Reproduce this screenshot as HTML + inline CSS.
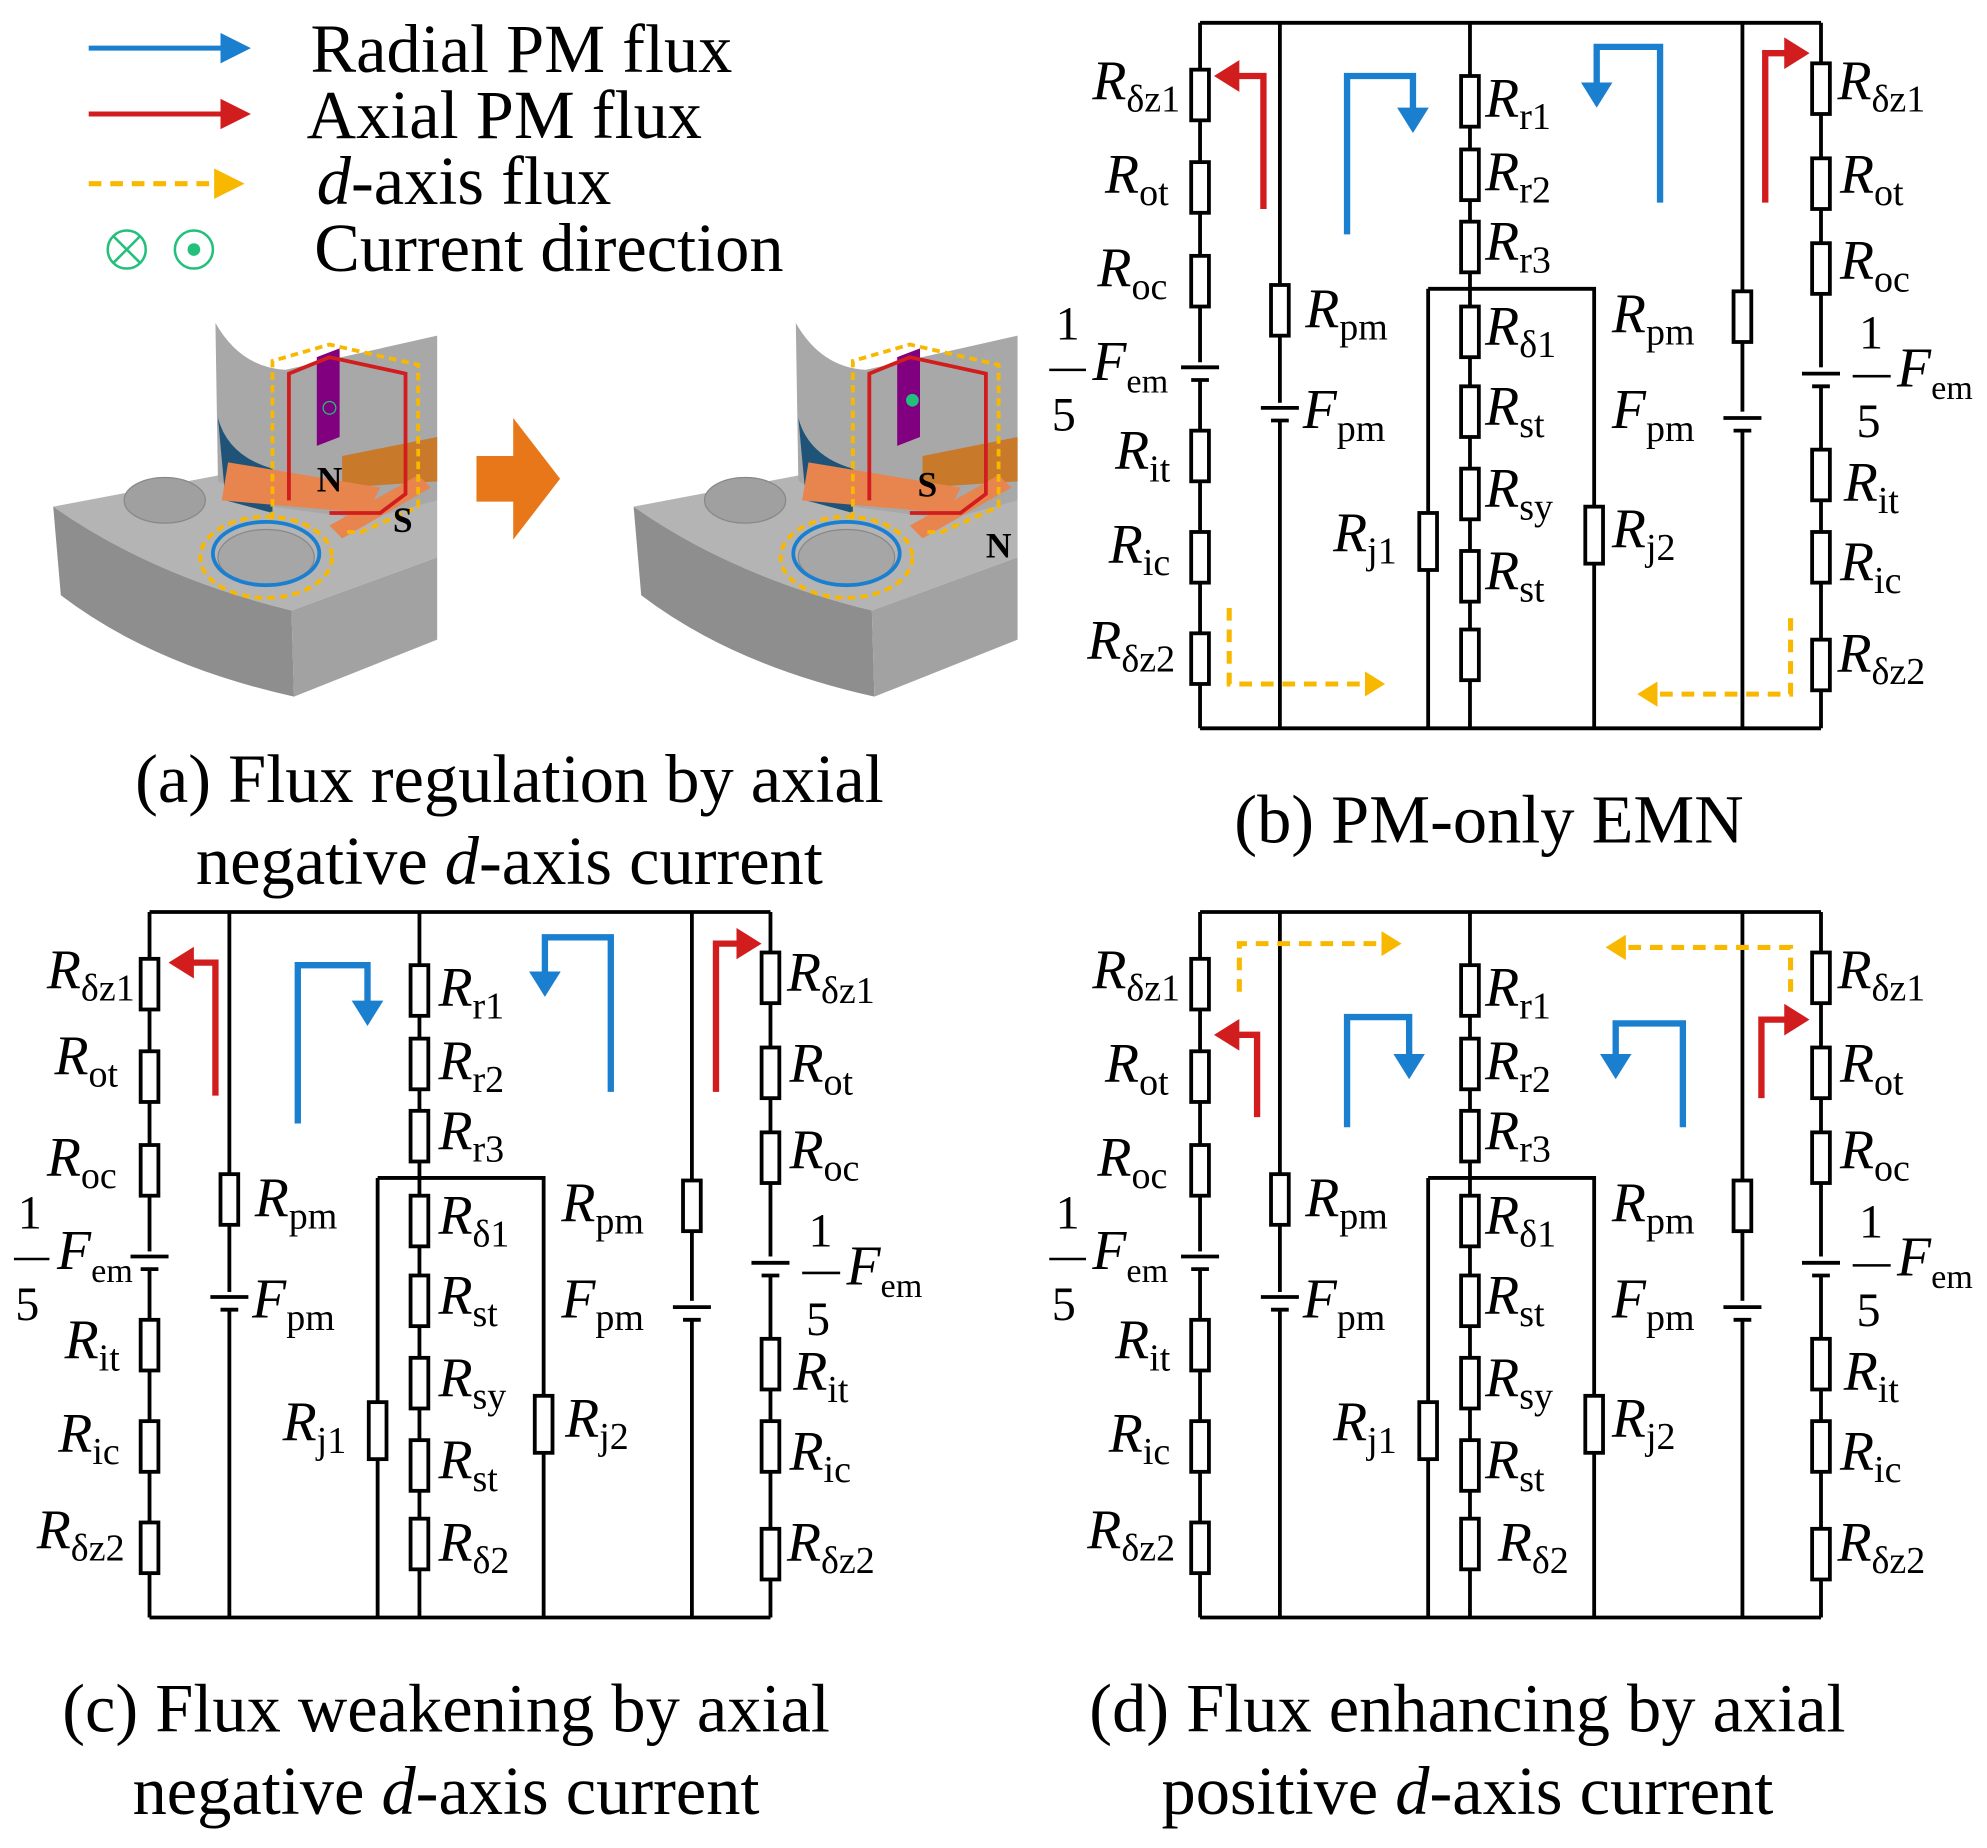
<!DOCTYPE html>
<html><head><meta charset="utf-8"><style>html,body{margin:0;padding:0;background:#fff}svg{display:block}
.L{font-size:44px}.L tspan[font-size="27"]{font-size:30px}.L tspan[font-size="24"]{font-size:27px}.L text[font-size="34"]{font-size:38px}
</style></head><body>
<svg xmlns="http://www.w3.org/2000/svg" width="1987" height="1848" viewBox="0 0 1568 1459" preserveAspectRatio="none" font-family="Liberation Serif, serif">
<defs>
<marker id="ab" markerWidth="6" markerHeight="6" refX="4" refY="3" orient="auto" markerUnits="strokeWidth"><path d="M0,0 L6,3 L0,6 Z" fill="#1b7fd0"/></marker>
<marker id="ar" markerWidth="6" markerHeight="6" refX="4" refY="3" orient="auto" markerUnits="strokeWidth"><path d="M0,0 L6,3 L0,6 Z" fill="#d11d1d"/></marker>
<marker id="ay" markerWidth="6" markerHeight="6" refX="4" refY="3" orient="auto" markerUnits="strokeWidth"><path d="M0,0 L6,3 L0,6 Z" fill="#f8b800"/></marker>
<marker id="ab2" markerWidth="4" markerHeight="5" refX="2" refY="2.5" orient="auto" markerUnits="strokeWidth"><path d="M0,0 L4,2.5 L0,5 Z" fill="#1b7fd0"/></marker>
<marker id="ar2" markerWidth="4" markerHeight="5" refX="2" refY="2.5" orient="auto" markerUnits="strokeWidth"><path d="M0,0 L4,2.5 L0,5 Z" fill="#d11d1d"/></marker>
<marker id="ay2" markerWidth="4" markerHeight="5" refX="2" refY="2.5" orient="auto" markerUnits="strokeWidth"><path d="M0,0 L4,2.5 L0,5 Z" fill="#f8b800"/></marker>
</defs>
<!-- Legend -->
<line x1="70" y1="38" x2="190" y2="38" stroke="#1b7fd0" stroke-width="4" marker-end="url(#ab)"/>
<line x1="70" y1="90" x2="190" y2="90" stroke="#d11d1d" stroke-width="4" marker-end="url(#ar)"/>
<line x1="70" y1="145" x2="185" y2="145" stroke="#f8b800" stroke-width="4" stroke-dasharray="10,7" marker-end="url(#ay)"/>
<g font-size="54">
<text x="245" y="57">Radial PM flux</text>
<text x="242" y="109">Axial PM flux</text>
<text x="250" y="161"><tspan font-style="italic">d</tspan>-axis flux</text>
<text x="248" y="214">Current direction</text>
</g>
<circle cx="100" cy="197" r="15" fill="none" stroke="#22c07a" stroke-width="2"/>
<path d="M90,187 L110,207 M110,187 L90,207" stroke="#22c07a" stroke-width="2"/>
<circle cx="153" cy="197" r="15" fill="none" stroke="#22c07a" stroke-width="2"/>
<circle cx="153" cy="197" r="5" fill="#22c07a"/>

<!-- 3D images -->
<g>
<path d="M42,400 L190,372 L345,395 L345,440 L230,482 Q120,455 42,400 Z" fill="#b4b4b4"/>
<path d="M42,400 Q120,455 230,482 L232,550 Q120,525 48,470 Z" fill="#8e8e8e"/>
<path d="M230,482 L345,440 L345,505 L232,550 Z" fill="#a2a2a2"/>
<ellipse cx="130" cy="395" rx="32" ry="18" fill="#a0a0a0" stroke="#888"/>
<ellipse cx="210" cy="440" rx="38" ry="22" fill="#a6a6a6" stroke="#888"/>
<path d="M170,255 Q190,290 225,292 L345,265 L345,395 L290,410 L215,400 L172,380 Z" fill="#a8a8a8"/>
<path d="M172,330 Q180,360 215,370 L215,405 L178,395 Z" fill="#1f5478"/>
<path d="M250,282 L268,275 L268,345 L250,352 Z" fill="#800080"/>
<path d="M270,360 L345,345 L345,380 L270,385 Z" fill="#c87a2a"/>
<path d="M180,365 L300,385 L290,405 L175,395 Z" fill="#e8844e"/>
<path d="M260,415 L330,375 L340,385 L270,425 Z" fill="#e8844e"/>
</g>
<g transform="translate(458,0)">
<path d="M42,400 L190,372 L345,395 L345,440 L230,482 Q120,455 42,400 Z" fill="#b4b4b4"/>
<path d="M42,400 Q120,455 230,482 L232,550 Q120,525 48,470 Z" fill="#8e8e8e"/>
<path d="M230,482 L345,440 L345,505 L232,550 Z" fill="#a2a2a2"/>
<ellipse cx="130" cy="395" rx="32" ry="18" fill="#a0a0a0" stroke="#888"/>
<ellipse cx="210" cy="440" rx="38" ry="22" fill="#a6a6a6" stroke="#888"/>
<path d="M170,255 Q190,290 225,292 L345,265 L345,395 L290,410 L215,400 L172,380 Z" fill="#a8a8a8"/>
<path d="M172,330 Q180,360 215,370 L215,405 L178,395 Z" fill="#1f5478"/>
<path d="M250,282 L268,275 L268,345 L250,352 Z" fill="#800080"/>
<path d="M270,360 L345,345 L345,380 L270,385 Z" fill="#c87a2a"/>
<path d="M180,365 L300,385 L290,405 L175,395 Z" fill="#e8844e"/>
<path d="M260,415 L330,375 L340,385 L270,425 Z" fill="#e8844e"/>
</g>
<path d="M228,395 L228,295 L260,282 L320,295 L320,390 L300,405 L260,405" fill="none" stroke="#d11d1d" stroke-width="3"/>
<path d="M215,410 L215,285 L260,272 L330,288 L330,400 L285,420 L270,420" fill="none" stroke="#f8b800" stroke-width="3" stroke-dasharray="6,4"/>
<ellipse cx="210" cy="437" rx="42" ry="25" fill="none" stroke="#1b7fd0" stroke-width="3"/>
<ellipse cx="210" cy="440" rx="52" ry="32" fill="none" stroke="#f8b800" stroke-width="3" stroke-dasharray="6,4"/>
<circle cx="260" cy="322" r="5" fill="none" stroke="#22c07a" stroke-width="1"/>
<text x="250" y="388" font-size="28" font-weight="bold">N</text>
<text x="310" y="420" font-size="28" font-weight="bold">S</text>
<g transform="translate(458,0)">
<path d="M228,395 L228,295 L260,282 L320,295 L320,390 L300,405 L260,405" fill="none" stroke="#d11d1d" stroke-width="3"/>
<path d="M215,410 L215,285 L260,272 L330,288 L330,400 L285,420 L270,420" fill="none" stroke="#f8b800" stroke-width="3" stroke-dasharray="6,4"/>
<ellipse cx="210" cy="437" rx="42" ry="25" fill="none" stroke="#1b7fd0" stroke-width="3"/>
<ellipse cx="210" cy="440" rx="52" ry="32" fill="none" stroke="#f8b800" stroke-width="3" stroke-dasharray="6,4"/>
<circle cx="262" cy="316" r="5" fill="#22c07a"/>
<text x="266" y="392" font-size="28" font-weight="bold">S</text>
<text x="320" y="440" font-size="28" font-weight="bold">N</text>
</g>
<path d="M376,360 L405,360 L405,330 L442,378 L405,426 L405,396 L376,396 Z" fill="#e8771a"/>

<!-- captions -->
<g font-size="54" text-anchor="middle">
<text x="402" y="633">(a) Flux regulation by axial</text>
<text x="402" y="698">negative <tspan font-style="italic">d</tspan>-axis current</text>
<text x="1175" y="665">(b) PM-only EMN</text>
<text x="352" y="1367">(c) Flux weakening by axial</text>
<text x="352" y="1432">negative <tspan font-style="italic">d</tspan>-axis current</text>
<text x="1158" y="1367">(d) Flux enhancing by axial</text>
<text x="1158" y="1432">positive <tspan font-style="italic">d</tspan>-axis current</text>
</g>

<!-- Panel b -->
<g stroke="#000" stroke-width="3" fill="#fff">
<path d="M947,18 L1437,18 M947,575 L1437,575 M947,18 L947,575 M1437,18 L1437,575 M1010,18 L1010,575 M1375,18 L1375,575 M1160,18 L1160,575 M1127,228 L1258,228 L1258,575 M1127,228 L1127,575" fill="none"/>
<rect x="940" y="55" width="14" height="40"/><rect x="940" y="128" width="14" height="40"/><rect x="940" y="202" width="14" height="40"/>
<rect x="940" y="340" width="14" height="40"/><rect x="940" y="420" width="14" height="40"/><rect x="940" y="500" width="14" height="40"/>
<rect x="1430" y="50" width="14" height="40"/><rect x="1430" y="125" width="14" height="40"/><rect x="1430" y="192" width="14" height="40"/>
<rect x="1430" y="355" width="14" height="40"/><rect x="1430" y="420" width="14" height="40"/><rect x="1430" y="505" width="14" height="40"/>
<rect x="1003" y="225" width="14" height="40"/><rect x="1368" y="230" width="14" height="40"/>
<rect x="1153" y="60" width="14" height="40"/><rect x="1153" y="118" width="14" height="40"/><rect x="1153" y="175" width="14" height="40"/>
<rect x="1153" y="242" width="14" height="40"/><rect x="1153" y="305" width="14" height="40"/><rect x="1153" y="370" width="14" height="40"/><rect x="1153" y="435" width="14" height="40"/><rect x="1153" y="497" width="14" height="40"/>
<rect x="1120" y="405" width="14" height="45"/><rect x="1251" y="400" width="14" height="45"/>
<rect x="930" y="286" width="34" height="14" stroke="none"/><line x1="932" y1="290" x2="962" y2="290"/><line x1="940" y1="300" x2="954" y2="300"/>
<rect x="1420" y="290" width="34" height="14" stroke="none"/><line x1="1422" y1="295" x2="1452" y2="295"/><line x1="1430" y1="305" x2="1444" y2="305"/>
<rect x="993" y="318" width="34" height="14" stroke="none"/><line x1="995" y1="322" x2="1025" y2="322"/><line x1="1003" y1="332" x2="1017" y2="332"/>
<rect x="1358" y="325" width="34" height="14" stroke="none"/><line x1="1360" y1="330" x2="1390" y2="330"/><line x1="1368" y1="340" x2="1382" y2="340"/>
</g>
<g class="L" font-size="40" fill="#000">
<text x="862" y="78"><tspan font-style="italic">R</tspan><tspan font-size="27" dy="10">δz1</tspan></text>
<text x="872" y="152"><tspan font-style="italic">R</tspan><tspan font-size="27" dy="10">ot</tspan></text>
<text x="866" y="226"><tspan font-style="italic">R</tspan><tspan font-size="27" dy="10">oc</tspan></text>
<text x="833" y="268" font-size="34">1</text><line x1="828" y1="292" x2="857" y2="292" stroke="#000" stroke-width="2"/><text x="830" y="340" font-size="34">5</text>
<text x="862" y="300"><tspan font-style="italic">F</tspan><tspan font-size="24" dy="10">em</tspan></text>
<text x="880" y="370"><tspan font-style="italic">R</tspan><tspan font-size="27" dy="10">it</tspan></text>
<text x="875" y="444"><tspan font-style="italic">R</tspan><tspan font-size="27" dy="10">ic</tspan></text>
<text x="858" y="520"><tspan font-style="italic">R</tspan><tspan font-size="27" dy="10">δz2</tspan></text>
<text x="1030" y="258"><tspan font-style="italic">R</tspan><tspan font-size="27" dy="10">pm</tspan></text>
<text x="1028" y="338"><tspan font-style="italic">F</tspan><tspan font-size="27" dy="10">pm</tspan></text>
<text x="1172" y="92"><tspan font-style="italic">R</tspan><tspan font-size="27" dy="10">r1</tspan></text>
<text x="1172" y="150"><tspan font-style="italic">R</tspan><tspan font-size="27" dy="10">r2</tspan></text>
<text x="1172" y="205"><tspan font-style="italic">R</tspan><tspan font-size="27" dy="10">r3</tspan></text>
<text x="1172" y="272"><tspan font-style="italic">R</tspan><tspan font-size="27" dy="10">δ1</tspan></text>
<text x="1172" y="335"><tspan font-style="italic">R</tspan><tspan font-size="27" dy="10">st</tspan></text>
<text x="1172" y="400"><tspan font-style="italic">R</tspan><tspan font-size="27" dy="10">sy</tspan></text>
<text x="1172" y="465"><tspan font-style="italic">R</tspan><tspan font-size="27" dy="10">st</tspan></text>
<text x="1052" y="435"><tspan font-style="italic">R</tspan><tspan font-size="27" dy="10">j1</tspan></text>
<text x="1272" y="432"><tspan font-style="italic">R</tspan><tspan font-size="27" dy="10">j2</tspan></text>
<text x="1272" y="262"><tspan font-style="italic">R</tspan><tspan font-size="27" dy="10">pm</tspan></text>
<text x="1272" y="338"><tspan font-style="italic">F</tspan><tspan font-size="27" dy="10">pm</tspan></text>
<text x="1450" y="78"><tspan font-style="italic">R</tspan><tspan font-size="27" dy="10">δz1</tspan></text>
<text x="1452" y="152"><tspan font-style="italic">R</tspan><tspan font-size="27" dy="10">ot</tspan></text>
<text x="1452" y="220"><tspan font-style="italic">R</tspan><tspan font-size="27" dy="10">oc</tspan></text>
<text x="1467" y="275" font-size="34">1</text><line x1="1462" y1="297" x2="1492" y2="297" stroke="#000" stroke-width="2"/><text x="1465" y="345" font-size="34">5</text>
<text x="1497" y="305"><tspan font-style="italic">F</tspan><tspan font-size="24" dy="10">em</tspan></text>
<text x="1455" y="395"><tspan font-style="italic">R</tspan><tspan font-size="27" dy="10">it</tspan></text>
<text x="1452" y="458"><tspan font-style="italic">R</tspan><tspan font-size="27" dy="10">ic</tspan></text>
<text x="1450" y="530"><tspan font-style="italic">R</tspan><tspan font-size="27" dy="10">δz2</tspan></text>
</g>
<g fill="none" stroke-width="5">
<path d="M997,165 L997,60 L968,60" stroke="#d11d1d" marker-end="url(#ar2)"/>
<path d="M1063,185 L1063,60 L1115,60 L1115,95" stroke="#1b7fd0" marker-end="url(#ab2)"/>
<path d="M1310,160 L1310,37 L1260,37 L1260,75" stroke="#1b7fd0" marker-end="url(#ab2)"/>
<path d="M1393,160 L1393,42 L1418,42" stroke="#d11d1d" marker-end="url(#ar2)"/>
<path d="M970,480 L970,540 L1085,540" stroke="#f8b800" stroke-width="4" stroke-dasharray="10,7" marker-end="url(#ay2)"/>
<path d="M1413,488 L1413,548 L1300,548" stroke="#f8b800" stroke-width="4" stroke-dasharray="10,7" marker-end="url(#ay2)"/>
</g>

<!-- Panel d -->
<g transform="translate(0,702)">
<g stroke="#000" stroke-width="3" fill="#fff">
<path d="M947,18 L1437,18 M947,575 L1437,575 M947,18 L947,575 M1437,18 L1437,575 M1010,18 L1010,575 M1375,18 L1375,575 M1160,18 L1160,575 M1127,228 L1258,228 L1258,575 M1127,228 L1127,575" fill="none"/>
<rect x="940" y="55" width="14" height="40"/><rect x="940" y="128" width="14" height="40"/><rect x="940" y="202" width="14" height="40"/>
<rect x="940" y="340" width="14" height="40"/><rect x="940" y="420" width="14" height="40"/><rect x="940" y="500" width="14" height="40"/>
<rect x="1430" y="50" width="14" height="40"/><rect x="1430" y="125" width="14" height="40"/><rect x="1430" y="192" width="14" height="40"/>
<rect x="1430" y="355" width="14" height="40"/><rect x="1430" y="420" width="14" height="40"/><rect x="1430" y="505" width="14" height="40"/>
<rect x="1003" y="225" width="14" height="40"/><rect x="1368" y="230" width="14" height="40"/>
<rect x="1153" y="60" width="14" height="40"/><rect x="1153" y="118" width="14" height="40"/><rect x="1153" y="175" width="14" height="40"/>
<rect x="1153" y="242" width="14" height="40"/><rect x="1153" y="305" width="14" height="40"/><rect x="1153" y="370" width="14" height="40"/><rect x="1153" y="435" width="14" height="40"/><rect x="1153" y="497" width="14" height="40"/>
<rect x="1120" y="405" width="14" height="45"/><rect x="1251" y="400" width="14" height="45"/>
<rect x="930" y="286" width="34" height="14" stroke="none"/><line x1="932" y1="290" x2="962" y2="290"/><line x1="940" y1="300" x2="954" y2="300"/>
<rect x="1420" y="290" width="34" height="14" stroke="none"/><line x1="1422" y1="295" x2="1452" y2="295"/><line x1="1430" y1="305" x2="1444" y2="305"/>
<rect x="993" y="318" width="34" height="14" stroke="none"/><line x1="995" y1="322" x2="1025" y2="322"/><line x1="1003" y1="332" x2="1017" y2="332"/>
<rect x="1358" y="325" width="34" height="14" stroke="none"/><line x1="1360" y1="330" x2="1390" y2="330"/><line x1="1368" y1="340" x2="1382" y2="340"/>
</g>
<g class="L" font-size="40" fill="#000">
<text x="862" y="78"><tspan font-style="italic">R</tspan><tspan font-size="27" dy="10">δz1</tspan></text>
<text x="872" y="152"><tspan font-style="italic">R</tspan><tspan font-size="27" dy="10">ot</tspan></text>
<text x="866" y="226"><tspan font-style="italic">R</tspan><tspan font-size="27" dy="10">oc</tspan></text>
<text x="833" y="268" font-size="34">1</text><line x1="828" y1="292" x2="857" y2="292" stroke="#000" stroke-width="2"/><text x="830" y="340" font-size="34">5</text>
<text x="862" y="300"><tspan font-style="italic">F</tspan><tspan font-size="24" dy="10">em</tspan></text>
<text x="880" y="370"><tspan font-style="italic">R</tspan><tspan font-size="27" dy="10">it</tspan></text>
<text x="875" y="444"><tspan font-style="italic">R</tspan><tspan font-size="27" dy="10">ic</tspan></text>
<text x="858" y="520"><tspan font-style="italic">R</tspan><tspan font-size="27" dy="10">δz2</tspan></text>
<text x="1030" y="258"><tspan font-style="italic">R</tspan><tspan font-size="27" dy="10">pm</tspan></text>
<text x="1028" y="338"><tspan font-style="italic">F</tspan><tspan font-size="27" dy="10">pm</tspan></text>
<text x="1172" y="92"><tspan font-style="italic">R</tspan><tspan font-size="27" dy="10">r1</tspan></text>
<text x="1172" y="150"><tspan font-style="italic">R</tspan><tspan font-size="27" dy="10">r2</tspan></text>
<text x="1172" y="205"><tspan font-style="italic">R</tspan><tspan font-size="27" dy="10">r3</tspan></text>
<text x="1172" y="272"><tspan font-style="italic">R</tspan><tspan font-size="27" dy="10">δ1</tspan></text>
<text x="1172" y="335"><tspan font-style="italic">R</tspan><tspan font-size="27" dy="10">st</tspan></text>
<text x="1172" y="400"><tspan font-style="italic">R</tspan><tspan font-size="27" dy="10">sy</tspan></text>
<text x="1172" y="465"><tspan font-style="italic">R</tspan><tspan font-size="27" dy="10">st</tspan></text>
<text x="1182" y="530"><tspan font-style="italic">R</tspan><tspan font-size="27" dy="10">δ2</tspan></text>
<text x="1052" y="435"><tspan font-style="italic">R</tspan><tspan font-size="27" dy="10">j1</tspan></text>
<text x="1272" y="432"><tspan font-style="italic">R</tspan><tspan font-size="27" dy="10">j2</tspan></text>
<text x="1272" y="262"><tspan font-style="italic">R</tspan><tspan font-size="27" dy="10">pm</tspan></text>
<text x="1272" y="338"><tspan font-style="italic">F</tspan><tspan font-size="27" dy="10">pm</tspan></text>
<text x="1450" y="78"><tspan font-style="italic">R</tspan><tspan font-size="27" dy="10">δz1</tspan></text>
<text x="1452" y="152"><tspan font-style="italic">R</tspan><tspan font-size="27" dy="10">ot</tspan></text>
<text x="1452" y="220"><tspan font-style="italic">R</tspan><tspan font-size="27" dy="10">oc</tspan></text>
<text x="1467" y="275" font-size="34">1</text><line x1="1462" y1="297" x2="1492" y2="297" stroke="#000" stroke-width="2"/><text x="1465" y="345" font-size="34">5</text>
<text x="1497" y="305"><tspan font-style="italic">F</tspan><tspan font-size="24" dy="10">em</tspan></text>
<text x="1455" y="395"><tspan font-style="italic">R</tspan><tspan font-size="27" dy="10">it</tspan></text>
<text x="1452" y="458"><tspan font-style="italic">R</tspan><tspan font-size="27" dy="10">ic</tspan></text>
<text x="1450" y="530"><tspan font-style="italic">R</tspan><tspan font-size="27" dy="10">δz2</tspan></text>
</g>
<g fill="none" stroke-width="5">
<path d="M992,180 L992,115 L968,115" stroke="#d11d1d" marker-end="url(#ar2)"/>
<path d="M978,81 L978,43 L1098,43" stroke="#f8b800" stroke-width="4" stroke-dasharray="10,7" marker-end="url(#ay2)"/>
<path d="M1063,188 L1063,101 L1112,101 L1112,140" stroke="#1b7fd0" marker-end="url(#ab2)"/>
<path d="M1328,188 L1328,106 L1275,106 L1275,140" stroke="#1b7fd0" marker-end="url(#ab2)"/>
<path d="M1413,81 L1413,46 L1275,46" stroke="#f8b800" stroke-width="4" stroke-dasharray="10,7" marker-end="url(#ay2)"/>
<path d="M1390,165 L1390,103 L1418,103" stroke="#d11d1d" marker-end="url(#ar2)"/>
</g>
</g>

<!-- Panel c -->
<g transform="translate(-829,702)">
<g stroke="#000" stroke-width="3" fill="#fff">
<path d="M947,18 L1437,18 M947,575 L1437,575 M947,18 L947,575 M1437,18 L1437,575 M1010,18 L1010,575 M1375,18 L1375,575 M1160,18 L1160,575 M1127,228 L1258,228 L1258,575 M1127,228 L1127,575" fill="none"/>
<rect x="940" y="55" width="14" height="40"/><rect x="940" y="128" width="14" height="40"/><rect x="940" y="202" width="14" height="40"/>
<rect x="940" y="340" width="14" height="40"/><rect x="940" y="420" width="14" height="40"/><rect x="940" y="500" width="14" height="40"/>
<rect x="1430" y="50" width="14" height="40"/><rect x="1430" y="125" width="14" height="40"/><rect x="1430" y="192" width="14" height="40"/>
<rect x="1430" y="355" width="14" height="40"/><rect x="1430" y="420" width="14" height="40"/><rect x="1430" y="505" width="14" height="40"/>
<rect x="1003" y="225" width="14" height="40"/><rect x="1368" y="230" width="14" height="40"/>
<rect x="1153" y="60" width="14" height="40"/><rect x="1153" y="118" width="14" height="40"/><rect x="1153" y="175" width="14" height="40"/>
<rect x="1153" y="242" width="14" height="40"/><rect x="1153" y="305" width="14" height="40"/><rect x="1153" y="370" width="14" height="40"/><rect x="1153" y="435" width="14" height="40"/><rect x="1153" y="497" width="14" height="40"/>
<rect x="1120" y="405" width="14" height="45"/><rect x="1251" y="400" width="14" height="45"/>
<rect x="930" y="286" width="34" height="14" stroke="none"/><line x1="932" y1="290" x2="962" y2="290"/><line x1="940" y1="300" x2="954" y2="300"/>
<rect x="1420" y="290" width="34" height="14" stroke="none"/><line x1="1422" y1="295" x2="1452" y2="295"/><line x1="1430" y1="305" x2="1444" y2="305"/>
<rect x="993" y="318" width="34" height="14" stroke="none"/><line x1="995" y1="322" x2="1025" y2="322"/><line x1="1003" y1="332" x2="1017" y2="332"/>
<rect x="1358" y="325" width="34" height="14" stroke="none"/><line x1="1360" y1="330" x2="1390" y2="330"/><line x1="1368" y1="340" x2="1382" y2="340"/>
</g>
<g class="L" font-size="40" fill="#000">
<text x="866" y="78"><tspan font-style="italic">R</tspan><tspan font-size="27" dy="10">δz1</tspan></text>
<text x="872" y="146"><tspan font-style="italic">R</tspan><tspan font-size="27" dy="10">ot</tspan></text>
<text x="866" y="226"><tspan font-style="italic">R</tspan><tspan font-size="27" dy="10">oc</tspan></text>
<text x="843" y="268" font-size="34">1</text><line x1="840" y1="292" x2="868" y2="292" stroke="#000" stroke-width="2"/><text x="841" y="340" font-size="34">5</text>
<text x="874" y="300"><tspan font-style="italic">F</tspan><tspan font-size="24" dy="10">em</tspan></text>
<text x="880" y="370"><tspan font-style="italic">R</tspan><tspan font-size="27" dy="10">it</tspan></text>
<text x="875" y="444"><tspan font-style="italic">R</tspan><tspan font-size="27" dy="10">ic</tspan></text>
<text x="858" y="520"><tspan font-style="italic">R</tspan><tspan font-size="27" dy="10">δz2</tspan></text>
<text x="1030" y="258"><tspan font-style="italic">R</tspan><tspan font-size="27" dy="10">pm</tspan></text>
<text x="1028" y="338"><tspan font-style="italic">F</tspan><tspan font-size="27" dy="10">pm</tspan></text>
<text x="1175" y="92"><tspan font-style="italic">R</tspan><tspan font-size="27" dy="10">r1</tspan></text>
<text x="1175" y="150"><tspan font-style="italic">R</tspan><tspan font-size="27" dy="10">r2</tspan></text>
<text x="1175" y="205"><tspan font-style="italic">R</tspan><tspan font-size="27" dy="10">r3</tspan></text>
<text x="1175" y="272"><tspan font-style="italic">R</tspan><tspan font-size="27" dy="10">δ1</tspan></text>
<text x="1175" y="335"><tspan font-style="italic">R</tspan><tspan font-size="27" dy="10">st</tspan></text>
<text x="1175" y="400"><tspan font-style="italic">R</tspan><tspan font-size="27" dy="10">sy</tspan></text>
<text x="1175" y="465"><tspan font-style="italic">R</tspan><tspan font-size="27" dy="10">st</tspan></text>
<text x="1175" y="530"><tspan font-style="italic">R</tspan><tspan font-size="27" dy="10">δ2</tspan></text>
<text x="1052" y="435"><tspan font-style="italic">R</tspan><tspan font-size="27" dy="10">j1</tspan></text>
<text x="1275" y="432"><tspan font-style="italic">R</tspan><tspan font-size="27" dy="10">j2</tspan></text>
<text x="1272" y="262"><tspan font-style="italic">R</tspan><tspan font-size="27" dy="10">pm</tspan></text>
<text x="1272" y="338"><tspan font-style="italic">F</tspan><tspan font-size="27" dy="10">pm</tspan></text>
<text x="1450" y="80"><tspan font-style="italic">R</tspan><tspan font-size="27" dy="10">δz1</tspan></text>
<text x="1452" y="152"><tspan font-style="italic">R</tspan><tspan font-size="27" dy="10">ot</tspan></text>
<text x="1452" y="220"><tspan font-style="italic">R</tspan><tspan font-size="27" dy="10">oc</tspan></text>
<text x="1467" y="282" font-size="34">1</text><line x1="1462" y1="303" x2="1492" y2="303" stroke="#000" stroke-width="2"/><text x="1465" y="352" font-size="34">5</text>
<text x="1497" y="312"><tspan font-style="italic">F</tspan><tspan font-size="24" dy="10">em</tspan></text>
<text x="1455" y="395"><tspan font-style="italic">R</tspan><tspan font-size="27" dy="10">it</tspan></text>
<text x="1452" y="458"><tspan font-style="italic">R</tspan><tspan font-size="27" dy="10">ic</tspan></text>
<text x="1450" y="530"><tspan font-style="italic">R</tspan><tspan font-size="27" dy="10">δz2</tspan></text>
</g>
<g fill="none" stroke-width="5">
<path d="M999,163 L999,58 L972,58" stroke="#d11d1d" marker-end="url(#ar2)"/>
<path d="M1064,185 L1064,60 L1119,60 L1119,98" stroke="#1b7fd0" marker-end="url(#ab2)"/>
<path d="M1311,160 L1311,38 L1259,38 L1259,75" stroke="#1b7fd0" marker-end="url(#ab2)"/>
<path d="M1394,160 L1394,43 L1420,43" stroke="#d11d1d" marker-end="url(#ar2)"/>
</g>
</g>
</svg>
</body></html>
